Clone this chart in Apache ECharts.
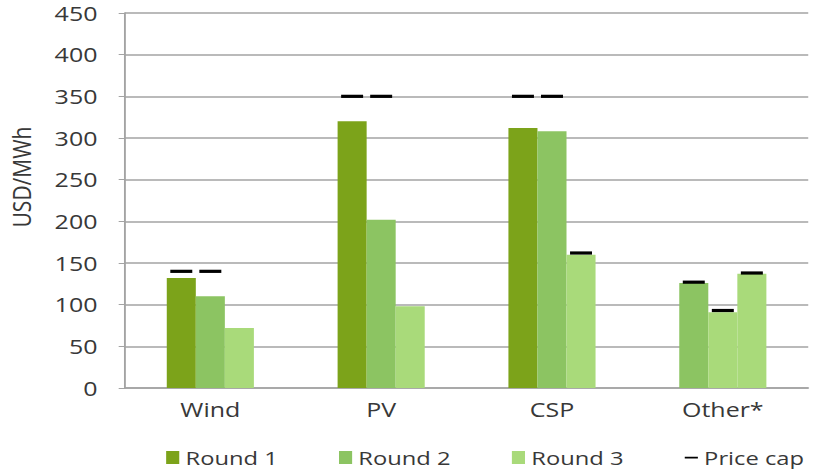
<!DOCTYPE html>
<html>
<head>
<meta charset="utf-8">
<script src="https://cdn.jsdelivr.net/npm/echarts@6/dist/echarts.min.js"></script>
<style>
  html, body { margin: 0; padding: 0; background: #ffffff; overflow: hidden; }
  /* chart is laid out narrower and widened horizontally, giving the wide-set lettering */
  #chart { width: 654px; height: 469px; transform: scaleX(1.2492); transform-origin: 0 0; }
</style>
</head>
<body>
<div id="chart"></div>
<script>
// Categories and auction results (USD/MWh)
const categories = ['Wind', 'PV', 'CSP', 'Other*'];
const round1 = [132, 320, 312, 126];
const round2 = [110, 202, 308, 91];
const round3 = [72, 98, 160, 137];
// Price caps per round (null where no cap is shown)
const cap1 = [140, 350, 350, 127];
const cap2 = [140, 350, 350, 93];
const cap3 = [null, null, 162, 138];
// Value axis
const yMin = 0, yMax = 450, yStep = 50;
const seriesNames = ['Round 1', 'Round 2', 'Round 3', 'Price cap'];

const C1 = '#7ca31a', C2 = '#8cc462', C3 = '#a9da7a';
const FONT = 'Open Sans';
const TXT = '#383838';
const GRID = '#a3a3a3';

// "Other*" bars use their own shades
const otherColors = [C2, C3, C3];

function barData(vals, slot) {
  return vals.map((v, i) => (i === categories.length - 1)
    ? { value: v, itemStyle: { color: otherColors[slot] } }
    : v);
}

const barCommon = { type: 'bar', barGap: '0%', barCategoryGap: '49%', z: 2 };
const capCommon = {
  type: 'pictorialBar', name: seriesNames[3],
  symbol: 'rect', symbolSize: [17.6, 3], symbolPosition: 'end', symbolOffset: [0, '-50%'],
  barGap: '0%', barCategoryGap: '49%', itemStyle: { color: '#000000' }, z: 3
};
const nz = a => a.map(v => v == null ? '-' : v);

// legend dash icon, corners pinned so the bounding box stays the full icon size
const dashIcon = 'path://M0,0L0.01,0L0,0.01Z M0,6.1H13V8.1H0Z M13,14L12.99,14L13,13.99Z';

const chart = echarts.init(document.getElementById('chart'), null, { renderer: 'svg' });
chart.setOption({
  animation: false,
  textStyle: { fontFamily: FONT },
  grid: { left: 100, right: 7, top: 13, bottom: 81, containLabel: false },
  legend: {
    left: 128, top: 443,
    itemWidth: 10.5, itemHeight: 13, itemGap: 49,
    textStyle: { fontFamily: FONT, fontSize: 19, color: TXT },
    data: [
      { name: seriesNames[0], icon: 'rect' },
      { name: seriesNames[1], icon: 'rect' },
      { name: seriesNames[2], icon: 'rect' },
      { name: seriesNames[3], icon: dashIcon }
    ]
  },
  xAxis: {
    type: 'category', data: categories,
    axisLine: { lineStyle: { color: GRID, width: 1.5 } },
    axisTick: { inside: true, length: 6, lineStyle: { color: GRID } },
    axisLabel: { margin: 11, fontSize: 20, color: TXT, fontFamily: FONT }
  },
  yAxis: {
    type: 'value', min: yMin, max: yMax, interval: yStep,
    axisLine: { show: true, lineStyle: { color: GRID, width: 1.5 } },
    axisTick: { show: true, length: 5, lineStyle: { color: GRID } },
    splitLine: { lineStyle: { color: GRID, width: 1.5 } },
    axisLabel: { margin: 22, fontSize: 20, color: TXT, fontFamily: FONT }
  },
  graphic: [{
    type: 'text', x: 16.5, y: 177, rotation: Math.PI / 2,
    style: { text: 'USD/MWh', font: '21px "Open Sans"', fill: TXT, align: 'center', verticalAlign: 'middle' }
  }],
  series: [
    Object.assign({}, barCommon, { name: seriesNames[0], data: barData(round1, 0), itemStyle: { color: C1 } }),
    Object.assign({}, barCommon, { name: seriesNames[1], data: barData(round2, 1), itemStyle: { color: C2 } }),
    Object.assign({}, barCommon, { name: seriesNames[2], data: barData(round3, 2), itemStyle: { color: C3 } }),
    Object.assign({}, capCommon, { data: nz(cap1) }),
    Object.assign({}, capCommon, { data: nz(cap2) }),
    Object.assign({}, capCommon, { data: nz(cap3) })
  ]
});
</script>
</body>
</html>
